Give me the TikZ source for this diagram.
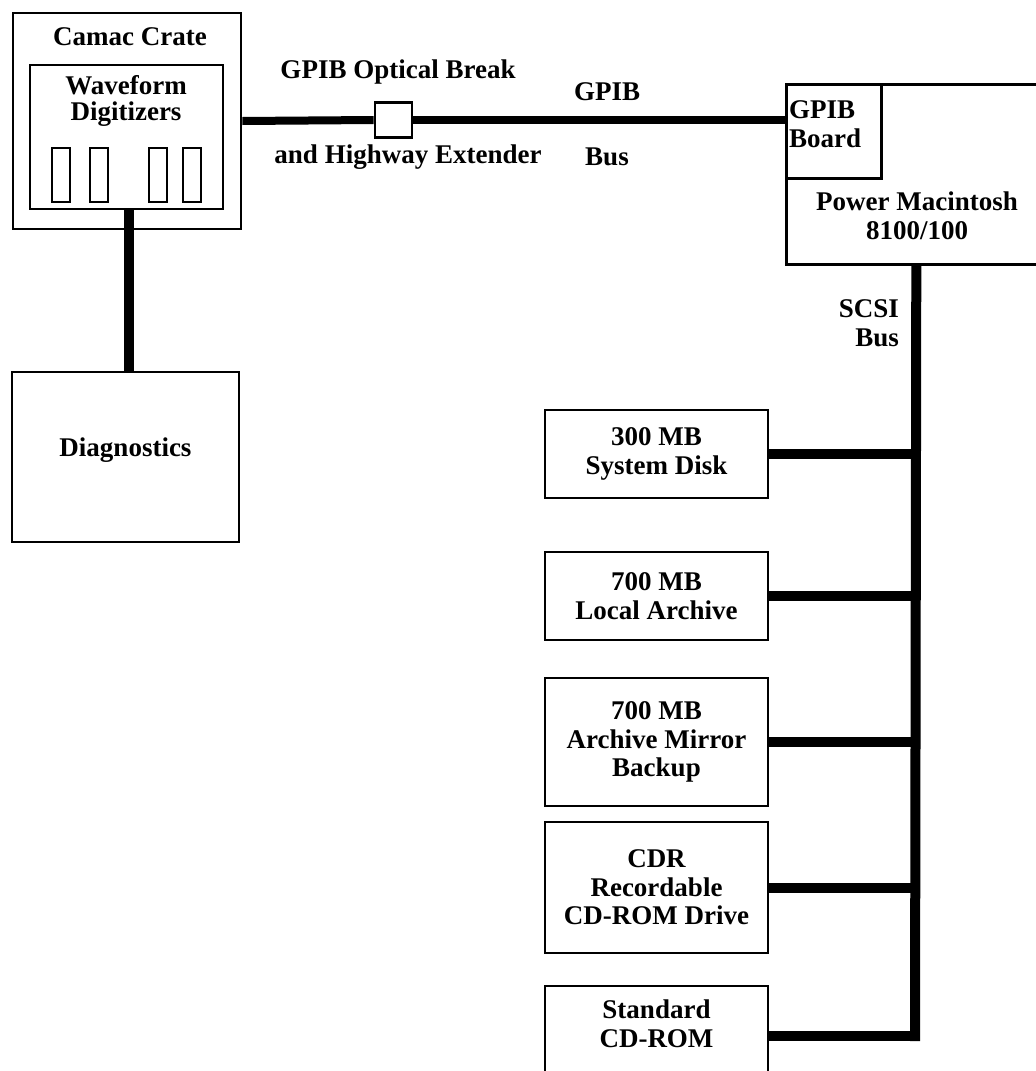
\documentclass[tikz,border=0pt]{standalone}
\usepackage{fontspec}
\setmainfont{Liberation Serif}
\begin{document}
\begin{tikzpicture}[x=1pt,y=-1pt,
  font=\fontsize{27}{28.5}\selectfont\bfseries,
  box/.style={draw, line width=2.6pt, inner sep=0pt, align=center},
  slot/.style={draw, line width=2pt, minimum width=18pt, minimum height=54pt, inner sep=0pt},
  bus/.style={line width=10pt},
  lbl/.style={inner sep=0pt, align=center}]
\useasboundingbox (0,0) rectangle (1036,1071);
\clip (0,0) rectangle (1036,1071);
% Camac crate
\node[box, minimum width=228pt, minimum height=216pt] (crate) at (127,121) {};
\node[lbl] (cratet) at (130,37) {Camac Crate};
\node[box, minimum width=193pt, minimum height=144pt] (wfd) at (126.5,137) {};
\node[lbl, font=\fontsize{27}{26}\selectfont\bfseries] (wfdt) at (126,101) {Waveform\\Digitizers};
\node[slot] (s1) at (61,175) {};
\node[slot] (s2) at (99,175) {};
\node[slot] (s3) at (157.5,175) {};
\node[slot] (s4) at (192,175) {};
% Diagnostics
\node[box, minimum width=227pt, minimum height=170pt] (diag) at (125.5,457) {};
\node[lbl] (diagt) at (125.5,450) {Diagnostics};
\coordinate (dtop) at (129,372);
\draw[bus] (wfd.south -| dtop) -- (dtop);
% Mac
\node[box, minimum width=260pt, minimum height=180pt, anchor=north west] (mac) at (785,83) {};
\node[box, minimum width=95pt, minimum height=94pt, anchor=north west] (gb) at (785,83) {};
\node[lbl, anchor=west, align=left] (gbt) at (789,124) {GPIB\\Board};
\node[lbl] (mact) at (917,216) {Power Macintosh\\8100/100};
% GPIB bus with optical break
\node[box, minimum width=37pt, minimum height=35pt] (ob) at (393.5,120) {};
\draw[bus, line width=8pt] (crate.east) -- (ob.west);
\draw[bus, line width=8pt] (ob.east) -- (ob.east -| gb.west);
\node[lbl] (obt1) at (398,72) {GPIB Optical Break};
\node[lbl] (obt2) at (408,157) {and Highway Extender};
\node[lbl] (gpibt) at (607,92) {GPIB};
\node[lbl] (bust) at (607,157) {Bus};
% Disks
\node[box, minimum width=223pt, minimum height=88pt] (d1) at (656.5,454) {300 MB\\System Disk};
\node[box, minimum width=223pt, minimum height=88pt] (d2) at (656.5,596) {700 MB\\Local Archive};
\node[box, minimum width=223pt, minimum height=128pt] (d3) at (656.5,742) {700 MB\\Archive Mirror\\Backup};
\node[box, minimum width=223pt, minimum height=131pt] (d4) at (656.5,887.5) {CDR\\Recordable\\CD-ROM Drive};
\node[box, minimum width=223pt, minimum height=100pt] (d5) at (656.5,1036) {};
\node[lbl] (d5t) at (656.5,1024) {Standard\\CD-ROM};
% SCSI bus
\coordinate (busend) at (915,1041);
\draw[bus] (mac.south) -- (busend);
\node[lbl, anchor=east, align=right] (scsit) at (899,323) {SCSI\\Bus};
\foreach \d in {d1,d2,d3,d4}{\draw[bus] (\d.east) -- (\d.east -| busend);}
\draw[bus] (d5.east) -- (d5.east -| busend);
\end{tikzpicture}
\end{document}
